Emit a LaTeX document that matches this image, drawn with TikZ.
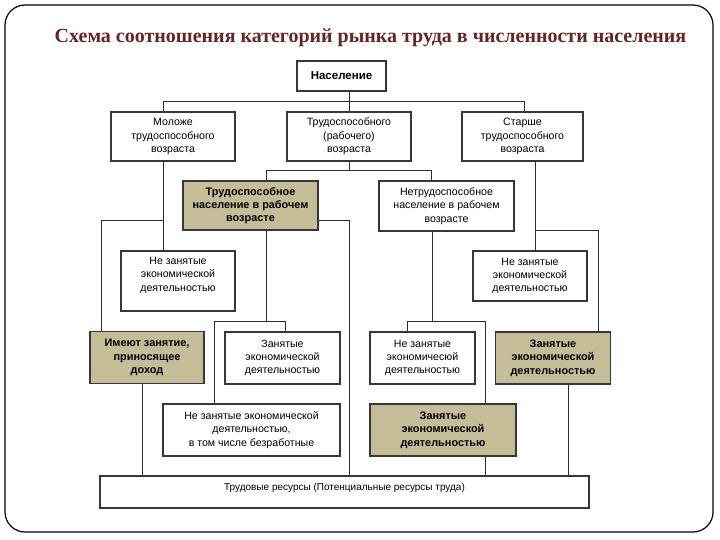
\documentclass[tikz,border=0pt]{standalone}
\usepackage{fontspec}
\setmainfont{Liberation Sans}
\newfontfamily\titlefont{Liberation Serif}
\definecolor{titlec}{RGB}{102,36,36}
\definecolor{boxc}{RGB}{55,55,55}
\definecolor{linec}{RGB}{45,45,45}
\definecolor{tan}{RGB}{196,189,151}
\tikzset{
  box/.style={draw=boxc, line width=1.2pt, fill=white, align=center, inner sep=1pt,
              font=\fontsize{10.6}{13.3}\selectfont},
  shaded/.style={box, fill=tan, font=\fontsize{10.9}{13.3}\selectfont\bfseries},
  conn/.style={draw=linec, line width=1pt},
}
\begin{document}
\begin{tikzpicture}[x=1pt,y=-1pt]
\useasboundingbox (0,0) rectangle (720,540);
\draw[line width=1.2pt, rounded corners=20pt] (5,5) rectangle (713,532);
\node[font=\titlefont\bfseries\fontsize{20}{24}\selectfont, text=titlec] (title) at (370.5,38)
  {Схема соотношения категорий рынка труда в численности населения};

% nodes
\node[box, font=\fontsize{11.5}{13}\selectfont\bfseries, minimum width=89pt, minimum height=30pt] (pop) at (341.5,76) {Население};
\node[box, minimum width=124pt, minimum height=49pt] (young) at (173,136.5) {Моложе\\трудоспособного\\возраста};
\node[box, minimum width=124pt, minimum height=49pt] (work) at (349,136.5) {Трудоспособного\\(рабочего)\\возраста};
\node[box, minimum width=121pt, minimum height=49pt] (old) at (522.5,136.5) {Старше\\трудоспособного\\возраста};
\node[shaded, minimum width=135pt, minimum height=49pt] (able) at (250.5,205.5) {Трудоспособное\\население в рабочем\\возрасте};
\node[box, minimum width=135pt, minimum height=50pt] (unable) at (446.5,206) {Нетрудоспособное\\население в рабочем\\возрасте};
\node[box, minimum width=114pt, minimum height=60pt] (nz1) at (178,281) {Не занятые\\экономической\\деятельностью\\\mbox{}};
\node[box, minimum width=114pt, minimum height=50pt] (nz2) at (530,276) {Не занятые\\экономической\\деятельностью};
\node[shaded, minimum width=114pt, minimum height=52pt] (income) at (147,357.5) {Имеют занятие,\\приносящее\\доход};
\node[box, minimum width=115pt, minimum height=52pt] (emp1) at (282.5,358) {Занятые\\экономической\\деятельностью};
\node[box, minimum width=105pt, minimum height=52pt] (nz3) at (422.5,358) {Не занятые\\экономичесюй\\деятельностью};
\node[shaded, minimum width=115pt, minimum height=52pt] (emp3) at (553,358) {Занятые\\экономической\\деятельностью};
\node[box, minimum width=177pt, minimum height=52pt] (unemp) at (251.5,430) {Не занятые экономической\\деятельностью,\\в том числе безработные};
\node[shaded, minimum width=146pt, minimum height=52pt] (emp2) at (443,430) {Занятые\\экономической\\деятельностью};
\node[box, minimum width=489pt, minimum height=32pt] (res) at (344.5,492) {};
\node[font=\fontsize{10}{13}\selectfont, anchor=north] (restext) at (res.north) [yshift=-4pt] {Трудовые ресурсы (Потенциальные ресурсы труда)};

% branch coordinates
\coordinate (t1) at (163,102);
\coordinate (t2) at (524,102);
\coordinate (b1) at (266,171);
\coordinate (b2) at (431,171);
\coordinate (y1) at (163,221);
\coordinate (y2) at (101,221);
\coordinate (a1) at (349,221);
\coordinate (c0) at (266,321);
\coordinate (c1) at (214,321);
\coordinate (c2) at (285,321);
\coordinate (d0) at (432,321);
\coordinate (d1) at (407,321);
\coordinate (d2) at (485,321);
\coordinate (o1) at (535,231);
\coordinate (o2) at (598,231);

% connectors
\draw[conn] (pop.south -| work.north) -- (work.north);
\draw[conn] (young.north -| t1) |- (t2) -- (t2 |- old.north);
\draw[conn] (work.south) -- (work.south |- b1);
\draw[conn] (able.north -| b1) |- (b2) -- (b2 |- unable.north);
\draw[conn] (young.south -| y1) -- (nz1.north -| y1);
\draw[conn] (y1) -- (y2) -- (y2 |- income.north);
\draw[conn] (able.east |- a1) -- (a1) -- (a1 |- res.north);
\draw[conn] (able.south -| c0) -- (c0);
\draw[conn] (unemp.north -| c1) |- (c2) -- (c2 |- emp1.north);
\draw[conn] (unable.south -| d0) -- (d0);
\draw[conn] (nz3.north -| d1) |- (d2) -- (d2 |- emp2.north);
\draw[conn] (old.south -| o1) -- (nz2.north -| o1);
\draw[conn] (o1) -- (o2) -- (o2 |- emp3.north);
\draw[conn] ([xshift=-5pt]income.south) -- ([xshift=-5pt]income.south |- res.north);
\draw[conn] ([xshift=42pt]emp2.south) -- ([xshift=42pt]emp2.south |- res.north);
\draw[conn] ([xshift=15.5pt]emp3.south) -- ([xshift=15.5pt]emp3.south |- res.north);
\end{tikzpicture}
\end{document}
